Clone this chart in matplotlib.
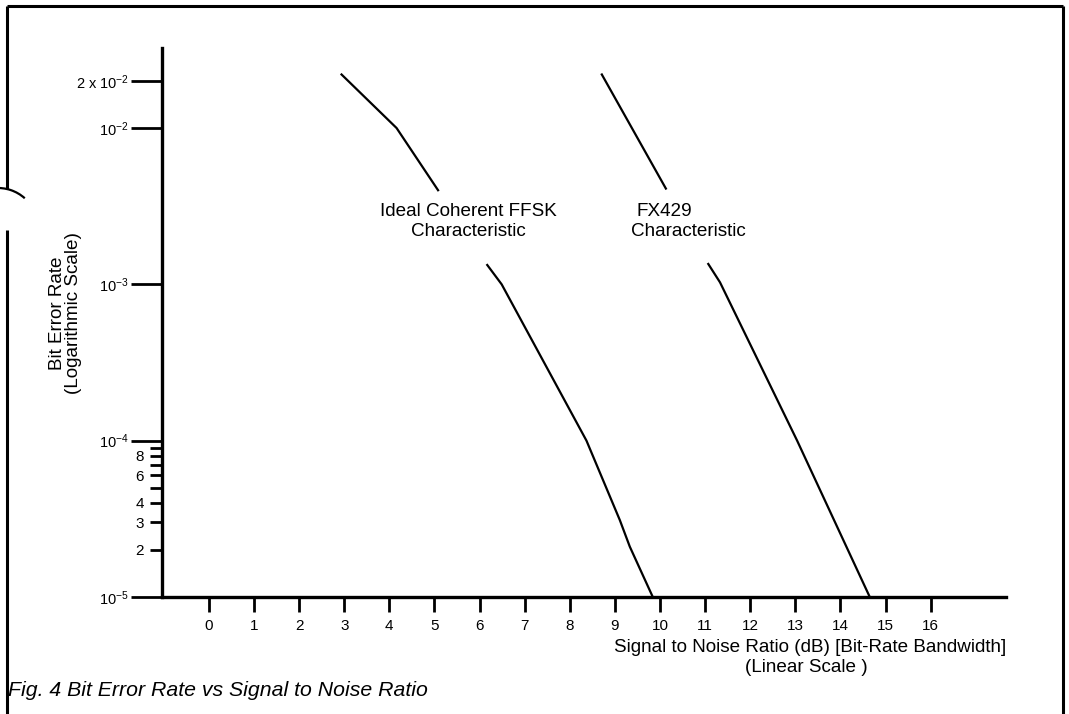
import matplotlib
matplotlib.use("Agg")
import matplotlib.pyplot as plt
from matplotlib.patches import Arc

plt.rcParams['font.family'] = ['Liberation Sans', 'DejaVu Sans']
plt.rcParams['mathtext.fontset'] = 'custom'
plt.rcParams['mathtext.rm'] = 'Liberation Sans'
plt.rcParams['mathtext.it'] = 'Liberation Sans:italic'
plt.rcParams['mathtext.bf'] = 'Liberation Sans:bold'

# ---- data ----
ideal_upper_snr = [2.94, 4.16, 5.08]
ideal_upper_ber = [2.2e-2, 1.0e-2, 4.0e-3]
ideal_lower_snr = [6.17, 6.49, 8.37, 9.11, 9.33, 9.84]
ideal_lower_ber = [1.33e-3, 1.0e-3, 1.0e-4, 3.1e-5, 2.1e-5, 1.0e-5]

fx_upper_snr = [8.71, 10.13]
fx_upper_ber = [2.2e-2, 4.1e-3]
fx_lower_snr = [11.07, 11.33, 13.04, 14.65]
fx_lower_ber = [1.35e-3, 1.03e-3, 1.0e-4, 1.0e-5]

x_ticks = list(range(0, 17))
x_tick_labels = [str(v) for v in x_ticks]
y_major = [1e-5, 1e-4, 1e-3, 1e-2, 2e-2]
y_major_labels = [r'$10^{-5}$', r'$10^{-4}$', r'$10^{-3}$', r'$10^{-2}$', r'2 x $10^{-2}$']
y_minor = [2e-5, 3e-5, 4e-5, 5e-5, 6e-5, 7e-5, 8e-5, 9e-5]
y_minor_labels = ['2', '3', '4', '', '6', '', '8', '']

W, H = 1069, 714
fig = plt.figure(figsize=(W / 100, H / 100), dpi=100)

# background overlay in pixel coordinates (frame, caption)
bg = fig.add_axes([0, 0, 1, 1])
bg.set_xlim(0, W)
bg.set_ylim(H, 0)
bg.axis('off')
lk = dict(color='black', lw=2.2, solid_capstyle='butt')
bg.plot([7, 1063], [6, 6], **lk)
bg.plot([7, 7], [6, 189], **lk)
bg.plot([7, 7], [230, H], **lk)
bg.plot([1063, 1063], [6, H], **lk)
bg.add_patch(Arc((-2, 228), 80, 80, theta1=-95, theta2=-48,
                 color='black', lw=1.6))
bg.text(8, 690, 'Fig. 4 Bit Error Rate vs Signal to Noise Ratio', fontsize=15.3,
        style='italic', ha='left', va='center')

# main axes
left, right, bottom, top = 162, 1006, 597, 48
ax = fig.add_axes([left / W, 1 - bottom / H, (right - left) / W, (bottom - top) / H])
ax.patch.set_alpha(0)
ax.set_yscale('log')
ax.set_xlim(-1.04, 17.67)
ax.set_ylim(1e-5, 0.0325)

ax.plot(ideal_upper_snr, ideal_upper_ber, color='black', lw=1.6)
ax.plot(ideal_lower_snr, ideal_lower_ber, color='black', lw=1.6)
ax.plot(fx_upper_snr, fx_upper_ber, color='black', lw=1.6)
ax.plot(fx_lower_snr, fx_lower_ber, color='black', lw=1.6)

for s in ['top', 'right']:
    ax.spines[s].set_visible(False)
for s in ['left', 'bottom']:
    ax.spines[s].set_linewidth(2.4)

ax.set_xticks(x_ticks, x_tick_labels)
ax.tick_params(axis='x', direction='out', length=11, width=2, pad=5, labelsize=11)
ax.set_yticks(y_major, y_major_labels)
ax.set_yticks(y_minor, y_minor_labels, minor=True)
ax.tick_params(axis='y', which='major', direction='out', length=22, width=2, pad=2,
               labelsize=10.5)
ax.tick_params(axis='y', which='minor', direction='out', length=9, width=2, pad=4,
               labelsize=11)
ax.tick_params(axis='x', which='minor', bottom=False)

# labels
fs = 13.6
bg.text(57, 313, 'Bit Error Rate', rotation=90, fontsize=fs, ha='center', va='center')
bg.text(74, 313, '(Logarithmic Scale)', rotation=90, fontsize=fs, ha='center', va='center')
bg.text(810, 648, 'Signal to Noise Ratio (dB) [Bit-Rate Bandwidth]', fontsize=fs,
        ha='center', va='center')
bg.text(806, 667, '(Linear Scale )', fontsize=fs, ha='center', va='center')

bg.text(468, 212, 'Ideal Coherent FFSK', fontsize=fs, ha='center', va='center')
bg.text(468, 231, 'Characteristic', fontsize=fs, ha='center', va='center')
bg.text(664, 212, 'FX429', fontsize=fs, ha='center', va='center')
bg.text(688, 231, 'Characteristic', fontsize=fs, ha='center', va='center')

fig.savefig('out.png', dpi=100)
